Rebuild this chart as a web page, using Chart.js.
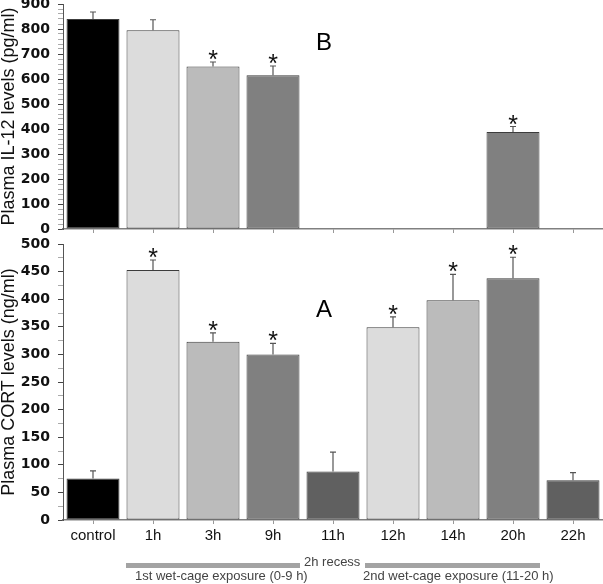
<!DOCTYPE html>
<html>
<head>
<meta charset="utf-8">
<script src="https://cdn.jsdelivr.net/npm/chart.js@4.4.1/dist/chart.umd.min.js"></script>
<style>
  body { margin: 0; background: #fff; }
  #wrap { position: relative; width: 603px; height: 584px; overflow: hidden; font-family: "Liberation Sans", Arial, sans-serif; }
  #topChart { position: absolute; left: 0; top: 0; }
  #bottomChart { position: absolute; left: 0; top: 235px; }
  .panel { position: absolute; font-size: 24px; line-height: 24px; color: #000; }
  .band { position: absolute; height: 5px; background: #a3a3a3; }
  .note { position: absolute; font-size: 13px; line-height: 13px; color: #444; white-space: nowrap; }
</style>
</head>
<body>
<div id="wrap">
  <canvas id="topChart" width="603" height="240"></canvas>
  <canvas id="bottomChart" width="603" height="320"></canvas>
  <div class="panel" style="left:316px; top:30px;">B</div>
  <div class="panel" style="left:316px; top:297px;">A</div>
  <div class="band" style="left:126px; top:563px; width:174px;"></div>
  <div class="band" style="left:365px; top:563px; width:175px;"></div>
  <div class="note" style="left:304px; top:555px;">2h recess</div>
  <div class="note" style="left:135px; top:569px;">1st wet-cage exposure (0-9 h)</div>
  <div class="note" style="left:363px; top:569px;">2nd wet-cage exposure (11-20 h)</div>
</div>

<script>
// ----------------------------
// DATA
// ----------------------------
const categories = ['control', '1h', '3h', '9h', '11h', '12h', '14h', '20h', '22h'];

// panel B - IL-12 (pg/ml)
const il12Values = [840, 795, 650, 615, null, null, null, 388, null];
const il12Errors = [28, 42, 18, 37, null, null, null, 22, null];
const il12Stars  = [false, false, true, true, false, false, false, true, false];
const il12Max = 900;
const il12MajorStep = 100;
const il12MinorStep = 20;

// panel A - CORT (ng/ml)
const cortValues = [75, 453, 323, 300, 88, 349, 398, 438, 72];
const cortErrors = [14, 18, 16, 20, 35, 19, 47, 38, 14];
const cortStars  = [false, true, true, true, false, true, true, true, false];
const cortMax = 500;
const cortMajorStep = 50;
const cortMinorStep = 25;

const barColors = ['#000000', '#dcdcdc', '#bbbbbb', '#808080', '#606060',
                   '#dcdcdc', '#bbbbbb', '#808080', '#606060'];

const FONT = '"Liberation Sans", Arial, sans-serif';

// ----------------------------
// ERROR BARS + STARS
// ----------------------------
function errorBars(errors, stars) {
  return {
    id: 'errorBars',
    afterDatasetsDraw(chart) {
      const ctx = chart.ctx;
      const yScale = chart.scales.y;
      const meta = chart.getDatasetMeta(0);
      const values = chart.data.datasets[0].data;

      ctx.save();
      ctx.strokeStyle = '#555';
      ctx.lineWidth = 1.2;
      ctx.fillStyle = '#111';
      ctx.font = '25px ' + FONT;
      ctx.textAlign = 'center';

      meta.data.forEach((bar, i) => {
        if (values[i] == null || errors[i] == null) return;
        const top = yScale.getPixelForValue(values[i] + errors[i]);
        ctx.beginPath();
        ctx.moveTo(bar.x, bar.y);
        ctx.lineTo(bar.x, top);
        ctx.moveTo(bar.x - 3, top);
        ctx.lineTo(bar.x + 3, top);
        ctx.stroke();

        if (stars[i]) {
          const m = ctx.measureText('*');
          ctx.fillText('*', bar.x, top - 2 - m.actualBoundingBoxDescent);
        }
      });
      ctx.restore();
    }
  };
}

// ----------------------------
// SHARED SCALE OPTIONS
// ----------------------------
function yAxis(max, major, minor, title) {
  return {
    min: 0,
    max: max,
    ticks: {
      stepSize: minor,
      autoSkip: false,
      padding: 8,
      color: '#111',
      font: { family: '"DejaVu Sans", sans-serif', size: 14, weight: 'bold' },
      callback: (v) => (v % major === 0 ? v : '')
    },
    grid: {
      drawOnChartArea: false,
      drawTicks: true,
      tickLength: 5,
      tickColor: (c) => (c.tick && c.tick.value % major === 0 ? '#444' : '#aaa')
    },
    border: { display: true, color: '#555', width: 1 },
    title: {
      display: true,
      text: title,
      color: '#111',
      padding: 0,
      font: { family: FONT, size: 18, lineHeight: 1 }
    },
    afterFit(scale) {
      scale.width = 63;
      scale.paddingTop = 0;
      scale.paddingBottom = 0;
    }
  };
}

function xAxis(showLabels, height) {
  return {
    ticks: {
      display: showLabels,
      padding: 3,
      color: '#111',
      font: { family: FONT, size: 15 }
    },
    grid: {
      offset: false,
      drawOnChartArea: false,
      drawTicks: true,
      tickLength: 4,
      tickColor: '#999'
    },
    border: { display: true, color: '#808080', width: 1.5 },
    afterFit(scale) {
      scale.height = height;
      scale.paddingLeft = 0;
      scale.paddingRight = 0;
    }
  };
}

function makeChart(canvasId, values, errors, stars, y, x, padding) {
  return new Chart(document.getElementById(canvasId), {
    type: 'bar',
    data: {
      labels: categories,
      datasets: [{
        data: values,
        backgroundColor: barColors,
        borderColor: '#3c3c3c',
        borderWidth: 1,
        borderSkipped: false,
        barPercentage: 0.883,
        categoryPercentage: 1
      }]
    },
    options: {
      responsive: false,
      animation: false,
      layout: { padding: padding },
      plugins: { legend: { display: false }, tooltip: { enabled: false } },
      scales: { x: x, y: y }
    },
    plugins: [errorBars(errors, stars)]
  });
}

// ----------------------------
// DRAW
// ----------------------------
makeChart('topChart', il12Values, il12Errors, il12Stars,
  yAxis(il12Max, il12MajorStep, il12MinorStep, 'Plasma IL-12 levels (pg/ml)'),
  xAxis(false, 0),
  { top: 4, bottom: 11, left: 0, right: 0 });

makeChart('bottomChart', cortValues, cortErrors, cortStars,
  yAxis(cortMax, cortMajorStep, cortMinorStep, 'Plasma CORT levels (ng/ml)'),
  xAxis(true, 35),
  { top: 9, bottom: 0, left: 0, right: 0 });
</script>
</body>
</html>
